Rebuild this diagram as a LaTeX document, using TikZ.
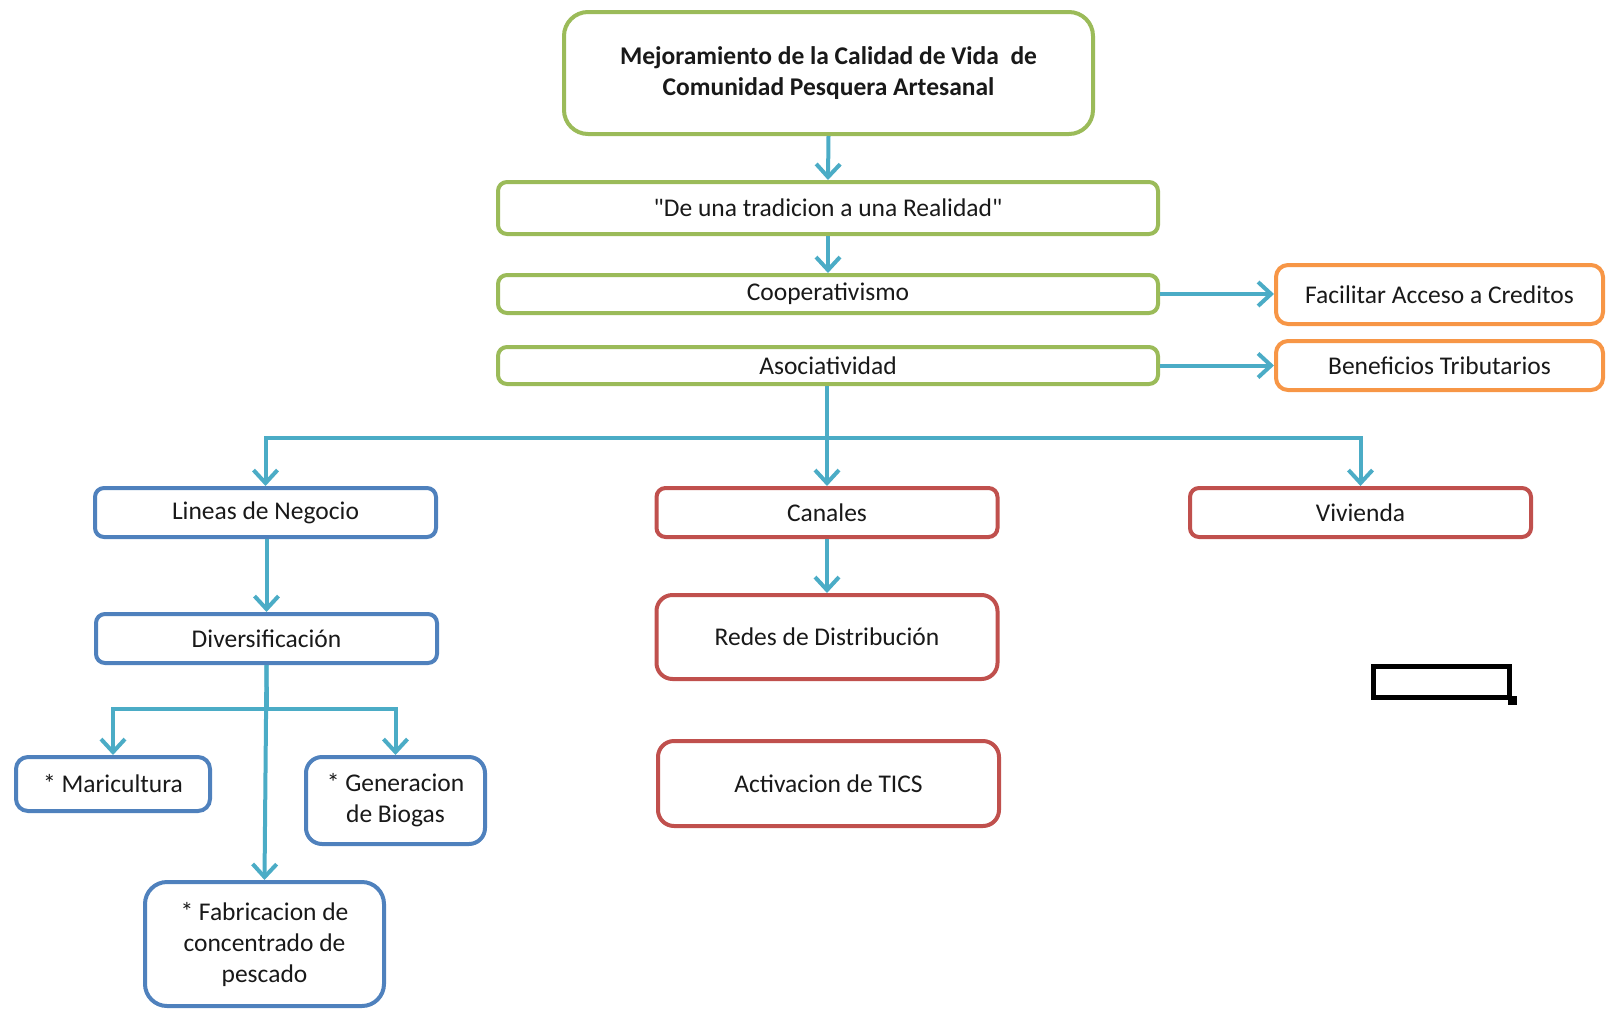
\documentclass[tikz,border=0pt]{standalone}
\usepackage{fontspec}
\setmainfont{Carlito}
\newfontfamily\qfont{Carlito}[Ligatures=TeXOff]
\usetikzlibrary{arrows.meta}
\definecolor{cgreen}{HTML}{9BBB59}
\definecolor{corange}{HTML}{F79646}
\definecolor{cred}{HTML}{C0504D}
\definecolor{cblue}{HTML}{4F81BD}
\definecolor{cconn}{HTML}{4BACC6}
\tikzset{
  box/.style={draw, line width=4pt, rounded corners=9pt, fill=white, align=center,
    inner sep=0pt, font=\fontsize{25.5}{31}\selectfont, text=black!90},
  gbox/.style={box, draw=cgreen},
  obox/.style={box, draw=corange},
  rbox/.style={box, draw=cred},
  bbox/.style={box, draw=cblue},
  conn/.style={draw=cconn, line width=4pt},
  arr/.style={conn, -{Straight Barb[length=13pt,width=24pt,line width=4pt]}},
}
\begin{document}
\begin{tikzpicture}[x=1pt,y=-1pt]
\useasboundingbox (0,0) rectangle (1610,1010);

% green column
\node[gbox, rounded corners=24pt, minimum width=529pt, minimum height=122pt,
  font=\fontsize{25.5}{31}\selectfont\bfseries] (top) at (828.5,73)
  {Mejoramiento de la Calidad de Vida\ \ de\\Comunidad Pesquera Artesanal};
\node[gbox, minimum width=660pt, minimum height=52pt] (trad) at (828,208)
  {{\qfont"}De una tradicion a una Realidad{\qfont"}};
\node[gbox, minimum width=660pt, minimum height=38pt] (coop) at (828,294)
  {Cooperativismo};
\node[gbox, minimum width=660pt, minimum height=37pt] (asoc) at (828,365.5)
  {Asociatividad};

% orange
\node[obox, rounded corners=12pt, minimum width=327pt, minimum height=59pt] (facil) at (1439.5,294.5)
  {Facilitar Acceso a Creditos};
\node[obox, rounded corners=12pt, minimum width=327pt, minimum height=49pt] (benef) at (1439.5,365.5)
  {Beneficios Tributarios};

% second level
\node[bbox, minimum width=341pt, minimum height=49pt] (lineas) at (265.5,512.5) {Lineas de Negocio};
\node[rbox, minimum width=341pt, minimum height=49pt] (canales) at (827,512.5) {Canales};
\node[rbox, minimum width=341pt, minimum height=49pt] (vivienda) at (1360.5,512.5) {Vivienda};

\node[bbox, minimum width=341pt, minimum height=49pt] (divers) at (266.5,638.5) {Diversificación};
\node[rbox, rounded corners=16pt, minimum width=341pt, minimum height=84pt] (redes) at (827,637) {Redes de Distribución};
\node[rbox, rounded corners=16pt, minimum width=341pt, minimum height=85pt] (tics) at (828.5,783.5) {Activacion de TICS};

\node[bbox, rounded corners=12pt, minimum width=194pt, minimum height=54pt] (mari) at (113,784)
  {* Maricultura};
\node[bbox, rounded corners=16pt, minimum width=179pt, minimum height=87pt] (biogas) at (395.5,800.5)
  {* Generacion\\de Biogas};
\node[bbox, rounded corners=22pt, minimum width=239pt, minimum height=124pt] (fabric) at (264.5,944)
  {* Fabricacion de\\concentrado de\\pescado};

% black rectangle
\node[draw=black, line width=5pt, minimum width=136pt, minimum height=31pt, inner sep=0pt] (blk) at (1441.5,682) {};
\node[fill=black, minimum size=9pt, inner sep=0pt] (blkdot) at (blk.south east) {};

% connectors
\draw[arr] (top.south) -- (trad.north);
\draw[arr] (trad.south) -- (coop.north);
\draw[arr] (coop.east) -- (coop.east -| facil.west);
\draw[arr] (asoc.east) -- (asoc.east -| benef.west);

\coordinate (bus) at (827,438);
\draw[conn] (asoc.south -| bus) -- (bus);
\draw[arr] (bus) -- (canales.north);
\draw[arr] (bus) -| (lineas.north);
\draw[arr] (bus) -| (vivienda.north);

\draw[arr] (lineas.south -| divers.north) -- (divers.north);
\draw[arr] (canales.south) -- (redes.north);

\coordinate (dj) at (267,709);
\draw[conn] (divers.south) -- (dj);
\draw[arr] (dj) -| (mari.north);
\draw[arr] (dj) -| (biogas.north);
\draw[arr] (divers.south) -- (fabric.north);
\end{tikzpicture}
\end{document}
